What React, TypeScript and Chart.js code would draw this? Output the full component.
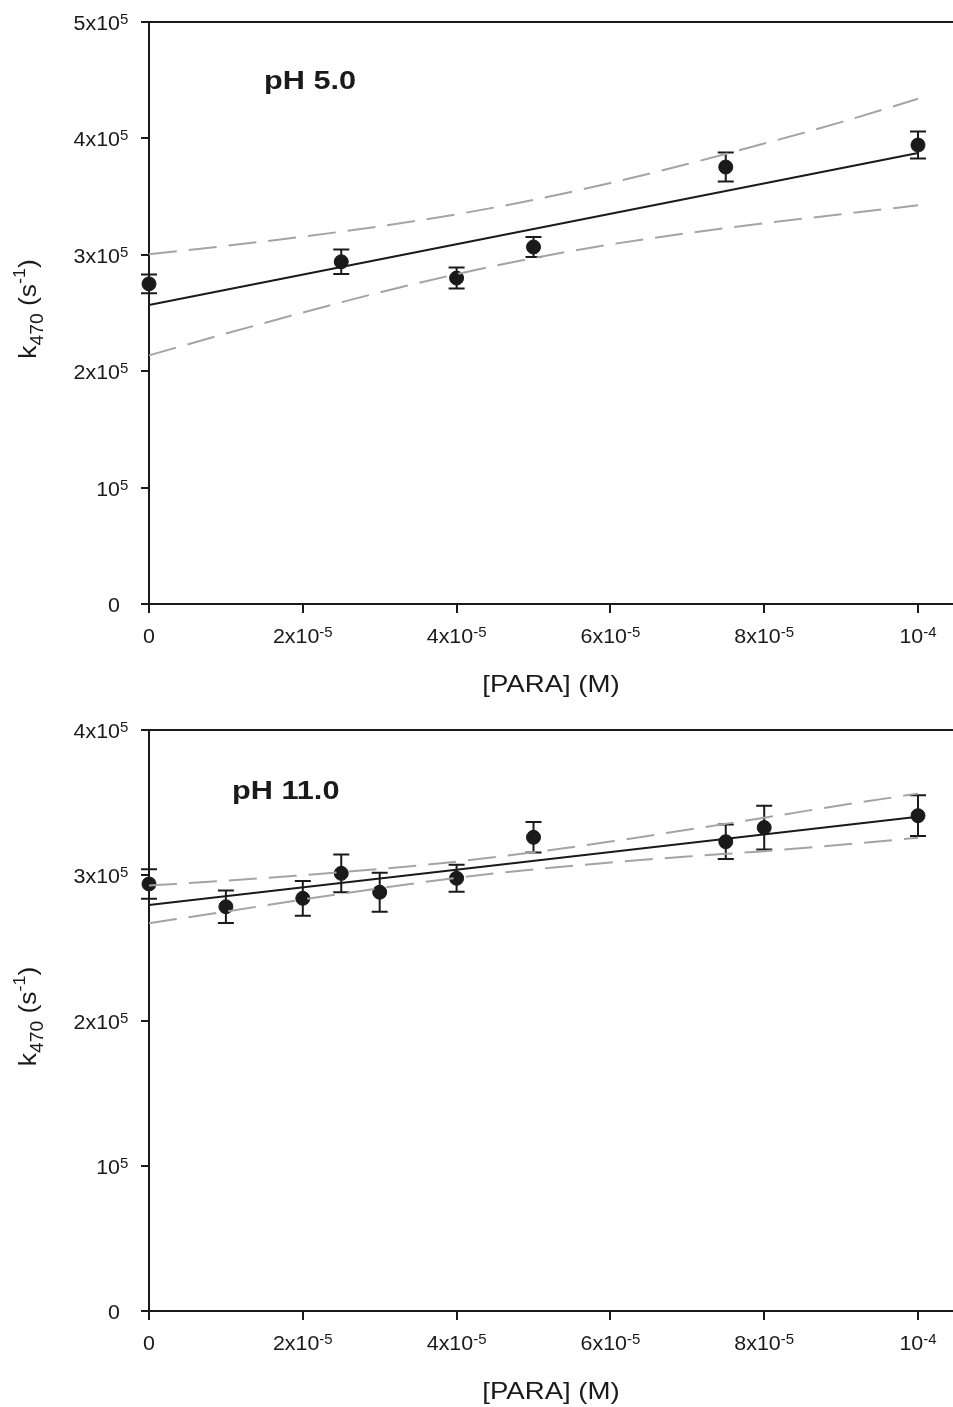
import React, { useEffect, useRef } from "react";
import { Chart, registerables } from "chart.js";

Chart.register(...registerables);

const FONT = '"Liberation Sans", Arial, sans-serif';
const INK = "#1a1a1a";
const GRAY = "#a4a4a4";

// ---------- shared x axis ----------
const xTickValues = [0, 2e-5, 4e-5, 6e-5, 8e-5, 1e-4];
const xTickBase = ["0", "2x10", "4x10", "6x10", "8x10", "10"];
const xTickExp = ["", "-5", "-5", "-5", "-5", "-4"];
const xAxisMax = 1.0455e-4;
const xTitle = "[PARA] (M)";
const yTitleMain = "k";
const yTitleSub = "470";
const yTitleUnit = "s";
const yTitleUnitExp = "-1";

// ---------- panel A : pH 5.0 ----------
const phALabel = "pH 5.0";
const phAYTicks = [0, 1e5, 2e5, 3e5, 4e5, 5e5];
const phAYBase = ["0", "10", "2x10", "3x10", "4x10", "5x10"];
const phAYExp = ["", "5", "5", "5", "5", "5"];
const phAX = [0, 2.5e-5, 4e-5, 5e-5, 7.5e-5, 1e-4];
const phAY = [2.75e5, 2.94e5, 2.8e5, 3.067e5, 3.754e5, 3.943e5];
const phAErr = [8000, 10500, 9000, 8600, 12500, 11600];
const phAFitX = [0, 1e-4];
const phAFitY = [2.569e5, 3.875e5];
const phABandX = [0, 1e-5, 2e-5, 3e-5, 4e-5, 5e-5, 6e-5, 7e-5, 8e-5, 9e-5, 1e-4];
const phABandUpper = [3.005e5, 3.077e5, 3.156e5, 3.245e5, 3.348e5, 3.472e5, 3.617e5, 3.78e5, 3.956e5, 4.14e5, 4.34e5];
const phABandLower = [2.136e5, 2.323e5, 2.504e5, 2.677e5, 2.834e5, 2.972e5, 3.089e5, 3.186e5, 3.272e5, 3.348e5, 3.425e5];

// ---------- panel B : pH 11.0 ----------
const phBLabel = "pH 11.0";
const phBYTicks = [0, 1e5, 2e5, 3e5, 4e5];
const phBYBase = ["0", "10", "2x10", "3x10", "4x10"];
const phBYExp = ["", "5", "5", "5", "5"];
const phBX = [0, 1e-5, 2e-5, 2.5e-5, 3e-5, 4e-5, 5e-5, 7.5e-5, 8e-5, 1e-4];
const phBY = [2.94e5, 2.783e5, 2.841e5, 3.013e5, 2.883e5, 2.979e5, 3.261e5, 3.231e5, 3.328e5, 3.41e5];
const phBErr = [10100, 11200, 12000, 13000, 13500, 9300, 10500, 11900, 15100, 14000];
const phBFitX = [0, 1e-4];
const phBFitY = [2.795e5, 3.403e5];
const phBBandX = [0, 1e-5, 2e-5, 3e-5, 4e-5, 5e-5, 6e-5, 7e-5, 8e-5, 9e-5, 1e-4];
const phBBandUpper = [2.93e5, 2.962e5, 3.001e5, 3.043e5, 3.094e5, 3.158e5, 3.232e5, 3.313e5, 3.396e5, 3.482e5, 3.562e5];
const phBBandLower = [2.67e5, 2.75e5, 2.833e5, 2.911e5, 2.982e5, 3.04e5, 3.088e5, 3.129e5, 3.166e5, 3.21e5, 3.258e5];

type Part = { t: string; size: number; bold?: boolean; dy?: number };

function fontOf(p: Part) {
  return `${p.bold ? "bold " : ""}${p.size}px ${FONT}`;
}

function partsWidth(ctx: CanvasRenderingContext2D, parts: Part[], sx: number) {
  return parts.map((p) => {
    ctx.font = fontOf(p);
    return ctx.measureText(p.t).width * sx;
  });
}

function drawParts(
  ctx: CanvasRenderingContext2D,
  parts: Part[],
  x: number,
  y: number,
  align: "left" | "center" | "right",
  sx: number,
  sy: number = 1
) {
  const widths = partsWidth(ctx, parts, sx);
  const total = widths.reduce((a, b) => a + b, 0);
  let cx = align === "left" ? x : align === "center" ? x - total / 2 : x - total;
  ctx.textAlign = "left";
  ctx.textBaseline = "alphabetic";
  ctx.fillStyle = INK;
  parts.forEach((p, i) => {
    ctx.font = fontOf(p);
    ctx.save();
    ctx.translate(cx, y + (p.dy || 0) * sy);
    ctx.scale(sx, sy);
    ctx.fillText(p.t, 0, 0);
    ctx.restore();
    cx += widths[i];
  });
}

const TICK_SX = 1.07;

function tickParts(base: string, exp: string): Part[] {
  const parts: Part[] = [{ t: base, size: 20 }];
  if (exp) parts.push({ t: exp, size: 14, dy: -6 });
  return parts;
}

type PanelSpec = {
  label: string;
  yTicks: number[];
  yBase: string[];
  yExp: string[];
  x: number[];
  y: number[];
  err: number[];
  fitX: number[];
  fitY: number[];
  bandX: number[];
  bandUpper: number[];
  bandLower: number[];
  canvasH: number;
  areaTop: number;
  xAxisH: number;
  labelDx: number;
  labelDy: number;
};

const panels: PanelSpec[] = [
  {
    label: phALabel,
    yTicks: phAYTicks,
    yBase: phAYBase,
    yExp: phAYExp,
    x: phAX,
    y: phAY,
    err: phAErr,
    fitX: phAFitX,
    fitY: phAFitY,
    bandX: phABandX,
    bandUpper: phABandUpper,
    bandLower: phABandLower,
    canvasH: 704,
    areaTop: 22,
    xAxisH: 100,
    labelDx: 115,
    labelDy: 67,
  },
  {
    label: phBLabel,
    yTicks: phBYTicks,
    yBase: phBYBase,
    yExp: phBYExp,
    x: phBX,
    y: phBY,
    err: phBErr,
    fitX: phBFitX,
    fitY: phBFitY,
    bandX: phBBandX,
    bandUpper: phBBandUpper,
    bandLower: phBBandLower,
    canvasH: 703,
    areaTop: 26,
    xAxisH: 96,
    labelDx: 83,
    labelDy: 69,
  },
];

function Panel({ spec, top }: { spec: PanelSpec; top: number }) {
  const ref = useRef<HTMLCanvasElement | null>(null);
  useEffect(() => {
    const canvas = ref.current;
    if (!canvas) return;

    const overlay = {
      id: "overlay",
      beforeDatasetsDraw(chart: any) {
        const ctx: CanvasRenderingContext2D = chart.ctx;
        const xs = chart.scales.x;
        const ys = chart.scales.y;
        ctx.save();
        ctx.strokeStyle = INK;
        ctx.lineWidth = 2;
        spec.x.forEach((xv, i) => {
          const px = xs.getPixelForValue(xv);
          const t = ys.getPixelForValue(spec.y[i] + spec.err[i]);
          const b = ys.getPixelForValue(spec.y[i] - spec.err[i]);
          ctx.beginPath();
          ctx.moveTo(px, t);
          ctx.lineTo(px, b);
          ctx.moveTo(px - 8, t);
          ctx.lineTo(px + 8, t);
          ctx.moveTo(px - 8, b);
          ctx.lineTo(px + 8, b);
          ctx.stroke();
        });
        ctx.restore();
      },
      afterDraw(chart: any) {
        const ctx: CanvasRenderingContext2D = chart.ctx;
        const area = chart.chartArea;
        const xs = chart.scales.x;
        const ys = chart.scales.y;
        ctx.save();
        // top frame line
        ctx.strokeStyle = INK;
        ctx.lineWidth = 2;
        ctx.beginPath();
        ctx.moveTo(area.left - 1, area.top);
        ctx.lineTo(area.right, area.top);
        ctx.stroke();

        // y tick labels: base right-aligned, exponent hanging after it
        spec.yTicks.forEach((v, i) => {
          const py = ys.getPixelForValue(v);
          const parts = tickParts(spec.yBase[i], spec.yExp[i]);
          const baseW = partsWidth(ctx, [parts[0]], TICK_SX)[0];
          drawParts(ctx, parts, area.left - 29 - baseW, py + 8, "left", TICK_SX);
        });
        // x tick labels
        xTickValues.forEach((v, i) => {
          const px = xs.getPixelForValue(v);
          drawParts(ctx, tickParts(xTickBase[i], xTickExp[i]), px, area.bottom + 39, "center", TICK_SX);
        });
        // x title
        drawParts(ctx, [{ t: xTitle, size: 24 }], (area.left + area.right) / 2, area.bottom + 88, "center", 1.15);

        // y title (rotated)
        ctx.save();
        ctx.translate(36, (area.top + area.bottom) / 2 - 4);
        ctx.rotate(-Math.PI / 2);
        drawParts(
          ctx,
          [
            { t: yTitleMain, size: 22 },
            { t: yTitleSub, size: 16, dy: 6 },
            { t: " (", size: 22 },
            { t: yTitleUnit, size: 22 },
            { t: yTitleUnitExp, size: 15, dy: -10 },
            { t: ")", size: 22 },
          ],
          0,
          0,
          "center",
          1.2,
          1.1
        );
        ctx.restore();

        // panel label
        drawParts(ctx, [{ t: spec.label, size: 26, bold: true }], area.left + spec.labelDx, area.top + spec.labelDy, "left", 1.18);
        ctx.restore();
      },
    };

    const chart = new Chart(canvas, {
      type: "scatter",
      data: {
        datasets: [
          {
            label: "fit",
            data: spec.fitX.map((x, i) => ({ x, y: spec.fitY[i] })),
            showLine: true,
            borderColor: INK,
            borderWidth: 2,
            pointRadius: 0,
            order: 0,
            clip: false,
          } as any,
          {
            label: "upper",
            data: spec.bandX.map((x, i) => ({ x, y: spec.bandUpper[i] })),
            showLine: true,
            borderColor: GRAY,
            borderWidth: 2,
            borderDash: [28, 12],
            cubicInterpolationMode: "monotone",
            pointRadius: 0,
            order: 0,
            clip: false,
          } as any,
          {
            label: "lower",
            data: spec.bandX.map((x, i) => ({ x, y: spec.bandLower[i] })),
            showLine: true,
            borderColor: GRAY,
            borderWidth: 2,
            borderDash: [28, 12],
            cubicInterpolationMode: "monotone",
            pointRadius: 0,
            order: 0,
            clip: false,
          } as any,
          {
            label: "data",
            data: spec.x.map((x, i) => ({ x, y: spec.y[i] })),
            showLine: false,
            backgroundColor: INK,
            borderColor: INK,
            borderWidth: 1,
            pointRadius: 7,
            order: 1,
            clip: false,
          } as any,
        ],
      },
      options: {
        animation: false,
        responsive: false,
        maintainAspectRatio: false,
        events: [],
        layout: { autoPadding: false, padding: { top: spec.areaTop, left: 0, right: 0, bottom: 0 } },
        plugins: { legend: { display: false }, tooltip: { enabled: false }, title: { display: false } },
        scales: {
          x: {
            type: "linear",
            min: 0,
            max: xAxisMax,
            afterBuildTicks: (s: any) => {
              s.ticks = xTickValues.map((value) => ({ value }));
            },
            afterFit: (s: any) => {
              s.height = spec.xAxisH;
            },
            ticks: { display: false },
            grid: { display: true, drawOnChartArea: false, drawTicks: true, tickLength: 9, color: INK, lineWidth: 2 },
            border: { display: true, color: INK, width: 2 },
          },
          y: {
            type: "linear",
            min: 0,
            max: spec.yTicks[spec.yTicks.length - 1],
            afterBuildTicks: (s: any) => {
              s.ticks = spec.yTicks.map((value) => ({ value }));
            },
            afterFit: (s: any) => {
              s.width = 149;
            },
            ticks: { display: false },
            grid: { display: true, drawOnChartArea: false, drawTicks: true, tickLength: 8, color: INK, lineWidth: 2 },
            border: { display: true, color: INK, width: 2 },
          },
        },
      } as any,
      plugins: [overlay],
    });
    return () => chart.destroy();
  }, [spec]);

  return (
    <canvas
      ref={ref}
      width={953}
      height={spec.canvasH}
      style={{ position: "absolute", left: 0, top, width: 953, height: spec.canvasH, display: "block" }}
    />
  );
}

export default function App() {
  return (
    <div style={{ position: "absolute", left: 0, top: 0, width: 953, height: 1407, background: "#fff", overflow: "hidden" }}>
      <Panel spec={panels[0]} top={0} />
      <Panel spec={panels[1]} top={704} />
    </div>
  );
}
